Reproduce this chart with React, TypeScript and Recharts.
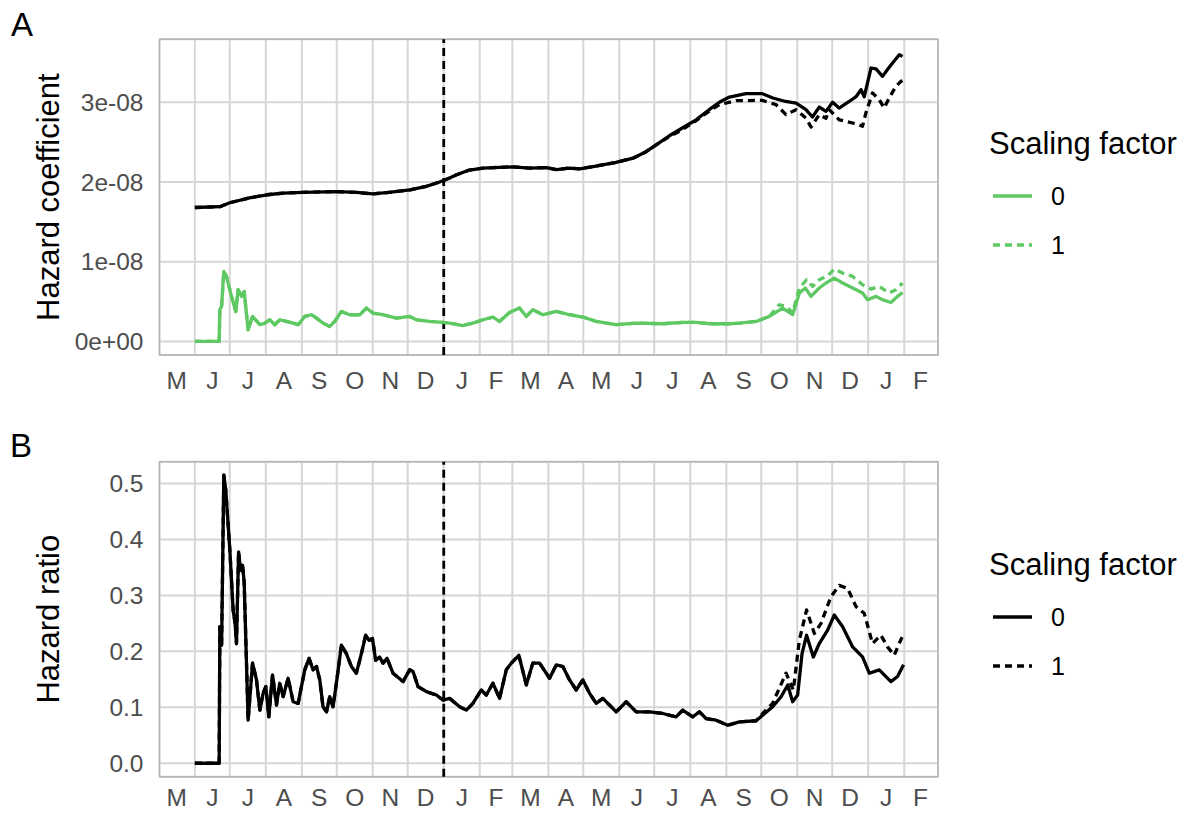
import React from 'react';
import {
  LineChart,
  Line,
  XAxis,
  YAxis,
  CartesianGrid,
  ReferenceLine,
  ReferenceArea,
} from 'recharts';

// days counted from 1 May (first year); month boundaries drive the grid, midpoints carry the letters
const monthBounds = [0, 31, 61, 92, 123, 153, 184, 214, 245, 276, 304, 335, 365, 396, 426, 457, 488, 518, 549, 579, 610, 641, 669];
const monthLetters = ['M', 'J', 'J', 'A', 'S', 'O', 'N', 'D', 'J', 'F', 'M', 'A', 'M', 'J', 'J', 'A', 'S', 'O', 'N', 'D', 'J', 'F'];
const cutoffDay = 245;
const xDomain: [number, number] = [0.6, 670];

const coefTicks = [0, 1e-8, 2e-8, 3e-8];
const ratioTicks = [0, 0.1, 0.2, 0.3, 0.4, 0.5];

type Pt = [number, number];

// panel A, black curves (identical up to spring of year two)
const coefBlackShared: Pt[] = [
  [31, 1.68e-8], [52.5, 1.69e-8], [61, 1.74e-8], [78, 1.8e-8], [93, 1.84e-8], [107, 1.86e-8],
  [124, 1.87e-8], [153, 1.88e-8], [170, 1.87e-8], [184, 1.85e-8], [198, 1.87e-8], [216, 1.9e-8],
  [230, 1.945e-8], [241.5, 2.0e-8], [250, 2.05e-8], [256, 2.09e-8], [267, 2.15e-8], [279, 2.175e-8],
  [304, 2.19e-8], [319, 2.175e-8], [333, 2.18e-8], [342, 2.155e-8], [353, 2.175e-8], [362, 2.165e-8],
  [376, 2.2e-8], [393, 2.245e-8], [408, 2.3e-8], [419, 2.38e-8], [428, 2.47e-8],
];
const coefBlackTail0: Pt[] = [
  [439, 2.58e-8], [450.5, 2.68e-8], [462, 2.78e-8], [473.5, 2.91e-8], [482, 3.0e-8], [490.6, 3.066e-8],
  [505, 3.108e-8], [519, 3.108e-8], [528, 3.054e-8], [539, 3.01e-8], [548, 2.99e-8], [556.5, 2.907e-8],
  [562, 2.815e-8], [568, 2.94e-8], [573.7, 2.886e-8], [579.4, 3.0e-8], [585, 2.928e-8], [593.7, 3.01e-8],
  [599.5, 3.07e-8], [603.8, 3.158e-8], [606.6, 3.07e-8], [612.4, 3.43e-8], [616.7, 3.418e-8],
  [622.3, 3.325e-8], [626.6, 3.41e-8], [630.9, 3.493e-8], [636.7, 3.597e-8], [639.5, 3.576e-8],
];
const coefBlackTail1: Pt[] = [
  [439, 2.57e-8], [450.5, 2.66e-8], [462, 2.77e-8], [473.5, 2.89e-8], [482, 2.97e-8], [496.4, 3.02e-8],
  [519, 3.024e-8], [530.7, 2.97e-8], [539.3, 2.845e-8], [547.9, 2.907e-8], [556.5, 2.8e-8], [560.8, 2.69e-8],
  [567.9, 2.845e-8], [573.7, 2.8e-8], [576.5, 2.907e-8], [585.1, 2.78e-8], [596.6, 2.74e-8], [605.1, 2.7e-8],
  [608, 2.866e-8], [613.7, 3.117e-8], [619.5, 3.033e-8], [623.7, 2.928e-8], [628, 3.054e-8],
  [633.8, 3.2e-8], [638.1, 3.262e-8], [639.5, 3.27e-8],
];

// panel A, green curves (scaling factor 0 and 1)
const coefGreenShared: Pt[] = [
  [31, 0], [51.9, 0], [52.5, 0.4e-8], [54, 0.44e-8], [55.9, 0.878e-8], [58.2, 0.816e-8], [62.5, 0.565e-8],
  [66.2, 0.376e-8], [68.2, 0.649e-8], [71.1, 0.565e-8], [73.4, 0.627e-8], [76.8, 0.147e-8], [80.6, 0.314e-8],
  [86.9, 0.21e-8], [91.2, 0.23e-8], [95.4, 0.272e-8], [99.7, 0.21e-8], [104, 0.272e-8], [109.8, 0.251e-8],
  [115.5, 0.23e-8], [119.8, 0.21e-8], [125.5, 0.314e-8], [131.3, 0.335e-8], [135.6, 0.293e-8],
  [141.2, 0.23e-8], [147, 0.188e-8], [151.3, 0.251e-8], [157, 0.376e-8], [164.2, 0.335e-8],
  [172.8, 0.335e-8], [178.5, 0.419e-8], [184.2, 0.356e-8], [192.8, 0.335e-8], [204.3, 0.293e-8],
  [215.7, 0.314e-8], [221.5, 0.272e-8], [232.9, 0.251e-8], [244.3, 0.238e-8], [250.1, 0.23e-8],
  [261.5, 0.2e-8], [270.1, 0.23e-8], [278.7, 0.272e-8], [287.3, 0.306e-8], [293, 0.251e-8],
  [301.6, 0.364e-8], [310.2, 0.419e-8], [316, 0.314e-8], [321.6, 0.398e-8], [330.2, 0.335e-8],
  [341.8, 0.376e-8], [353.2, 0.335e-8], [364.6, 0.306e-8], [376.1, 0.251e-8], [393.3, 0.21e-8],
  [410.5, 0.23e-8], [433.3, 0.222e-8], [450.5, 0.238e-8], [462, 0.238e-8], [473.5, 0.222e-8],
  [490.6, 0.222e-8], [499.2, 0.23e-8], [513.6, 0.251e-8], [525, 0.314e-8],
];
const coefGreenTail0: Pt[] = [
  [536.4, 0.419e-8], [545, 0.335e-8], [550.8, 0.607e-8], [555.9, 0.67e-8], [560.8, 0.565e-8],
  [567.9, 0.67e-8], [573.7, 0.733e-8], [580.8, 0.795e-8], [588, 0.733e-8], [596.6, 0.67e-8],
  [605.1, 0.607e-8], [609.4, 0.523e-8], [616.7, 0.565e-8], [622.3, 0.523e-8], [629.5, 0.489e-8],
  [635.2, 0.565e-8], [639.5, 0.615e-8],
];
const coefGreenTail1: Pt[] = [
  [533.5, 0.46e-8], [539.3, 0.44e-8], [545, 0.36e-8], [550.8, 0.67e-8], [557, 0.774e-8], [562.2, 0.69e-8],
  [567.9, 0.774e-8], [575.1, 0.824e-8], [580.8, 0.908e-8], [588, 0.858e-8], [596.6, 0.816e-8],
  [605.1, 0.711e-8], [612.4, 0.657e-8], [619.5, 0.69e-8], [628, 0.607e-8], [633.8, 0.649e-8],
  [639.5, 0.733e-8],
];

// panel B, hazard ratio
const ratioShared: Pt[] = [
  [31, 0], [51.9, 0], [52.5, 0.244], [54, 0.211], [55.9, 0.515], [57.6, 0.488], [61.1, 0.381], [63.9, 0.274],
  [65.6, 0.25], [66.8, 0.214], [68.6, 0.378], [70.3, 0.345], [72, 0.354], [73.4, 0.324], [76.8, 0.077],
  [80.6, 0.179], [84, 0.149], [86.9, 0.095], [89.7, 0.125], [92, 0.137], [94.6, 0.083], [97.8, 0.158],
  [101.2, 0.104], [104, 0.143], [106.9, 0.119], [111.2, 0.152], [115.5, 0.11], [119.8, 0.107], [125.5, 0.167],
  [129.2, 0.1875], [132.6, 0.167], [135.6, 0.173], [138.4, 0.149], [141.2, 0.101], [144.2, 0.092],
  [147, 0.119], [149.8, 0.101], [152.7, 0.143], [157, 0.211], [161.3, 0.196], [165.6, 0.173], [169.9, 0.161],
  [174.2, 0.196], [177.9, 0.229], [180.8, 0.22], [183.7, 0.223], [186.5, 0.184], [189.9, 0.19],
  [192.8, 0.179], [196.2, 0.1875], [201.4, 0.161], [210, 0.146], [215.7, 0.167], [218.6, 0.164],
  [222.9, 0.137], [230.1, 0.128], [238.7, 0.122], [244.3, 0.113], [250.1, 0.116], [258.7, 0.101],
  [264.4, 0.095], [270.1, 0.107], [277.3, 0.131], [281.6, 0.122], [287.3, 0.143], [293, 0.116],
  [298.8, 0.167], [303.1, 0.179], [309.6, 0.193], [316, 0.14], [321.6, 0.179], [327.4, 0.179], [336, 0.152],
  [341.8, 0.176], [347.4, 0.173], [353.2, 0.149], [358.9, 0.131], [364.6, 0.149], [370.4, 0.125],
  [376.1, 0.107], [381.8, 0.116], [393.3, 0.092], [401.9, 0.11], [410.5, 0.092], [421.9, 0.092],
  [433.3, 0.089], [444.8, 0.083], [450.5, 0.095], [459.1, 0.083], [464.9, 0.092], [470.6, 0.08],
  [479.2, 0.077], [489.2, 0.068], [499.2, 0.074], [513.6, 0.076],
];
const ratioTail0: Pt[] = [
  [519.2, 0.086], [527.8, 0.101], [535.1, 0.119], [540.8, 0.14], [545, 0.11], [549.3, 0.122], [553.1, 0.196],
  [557, 0.229], [562.8, 0.19], [567.9, 0.214], [575.1, 0.238], [580.8, 0.265], [588, 0.244], [596.6, 0.208],
  [605.1, 0.19], [610.9, 0.161], [619.5, 0.167], [629.5, 0.146], [635.2, 0.155], [640.4, 0.176],
];
const ratioTail1: Pt[] = [
  [519.2, 0.089], [527.8, 0.107], [539.3, 0.161], [545.6, 0.131], [550.8, 0.22], [557, 0.274], [563.7, 0.232],
  [569.4, 0.25], [578, 0.298], [585.1, 0.318], [592.3, 0.3125], [599.5, 0.28], [606.6, 0.268], [613.7, 0.214],
  [620.9, 0.229], [626.6, 0.208], [632.3, 0.193], [640.4, 0.232],
];

const FONT = '"Liberation Sans", Arial, Helvetica, sans-serif';
const GREEN = '#5ec962';
const GRID = '#d6d6d6';
const BORDER = '#b3b3b3';
const AXIS_TEXT = '#4d4d4d';
const DASH = '7 5';

const gridDays = monthBounds.slice(1, -1);
const labelDays = monthLetters.map((_, i) => (monthBounds[i] + monthBounds[i + 1]) / 2);
const monthLabel = (d: number) => monthLetters[labelDays.indexOf(d)] ?? '';
const coefLabel = (v: number) => (v === 0 ? '0e+00' : `${Math.round(v * 1e8)}e-08`);
const ratioLabel = (v: number) => v.toFixed(1);

const rows = (pts: Pt[]) => pts.map(([d, v]) => ({ d, v }));

type Series = { name: string; pts: Pt[]; color: string; dashed: boolean };

const yTitle = (text: string) => (props: any) => {
  const vb = props.viewBox || { x: 0, y: 0, height: 0 };
  const cx = vb.x + 59;
  const cy = vb.y + vb.height / 2;
  return (
    <text x={cx} y={cy} transform={`rotate(-90 ${cx} ${cy})`} textAnchor="middle" fontSize={31} fontFamily={FONT} fill="#000">
      {text}
    </text>
  );
};

function Panel(props: {
  top: number;
  height: number;
  marginTop: number;
  xAxisHeight: number;
  xLabelGap: number;
  yDomain: [number, number];
  yTicks: number[];
  yFormat: (v: number) => string;
  title: string;
  series: Series[];
}) {
  const { top, height, marginTop, xAxisHeight, xLabelGap, yDomain, yTicks, yFormat, title, series } = props;
  const tickStyle = { fontSize: 24.5, fill: AXIS_TEXT, fontFamily: FONT };
  return (
    <div style={{ position: 'absolute', left: 0, top }}>
      <LineChart width={1189} height={height} margin={{ top: marginTop, right: 251, bottom: 0, left: 0 }}>
        <CartesianGrid xAxisId="grid" stroke={GRID} strokeWidth={2} />
        <XAxis
          xAxisId="grid"
          type="number"
          dataKey="d"
          domain={xDomain}
          ticks={gridDays}
          interval={0}
          orientation="top"
          height={0}
          tick={{ fontSize: 0 }}
          tickFormatter={() => ''}
          tickLine={false}
          axisLine={false}
          allowDataOverflow
        />
        <XAxis
          type="number"
          dataKey="d"
          domain={xDomain}
          ticks={labelDays}
          interval={0}
          tickFormatter={monthLabel}
          height={xAxisHeight}
          tickSize={0}
          tickMargin={xLabelGap}
          axisLine={false}
          tickLine={false}
          tick={tickStyle}
          allowDataOverflow
        />
        <YAxis
          type="number"
          domain={yDomain}
          ticks={yTicks}
          interval={0}
          tickFormatter={yFormat}
          width={159.5}
          tickSize={0}
          tickMargin={16}
          axisLine={false}
          tickLine={false}
          tick={tickStyle}
          allowDataOverflow
          label={{ content: yTitle(title) }}
        />
        <ReferenceArea
          x1={xDomain[0]}
          x2={xDomain[1]}
          y1={yDomain[0]}
          y2={yDomain[1]}
          fill="none"
          stroke={BORDER}
          strokeWidth={1.4}
          ifOverflow="visible"
        />
        <ReferenceLine x={cutoffDay} stroke="#000" strokeWidth={2.8} strokeDasharray="8 5" />
        {series.map((s) => (
          <Line
            key={s.name}
            data={rows(s.pts)}
            dataKey="v"
            type="linear"
            dot={false}
            activeDot={false}
            stroke={s.color}
            strokeWidth={3.3}
            strokeLinejoin="round"
            strokeDasharray={s.dashed ? DASH : undefined}
            isAnimationActive={false}
          />
        ))}
      </LineChart>
    </div>
  );
}

function LegendBlock({ y, color }: { y: number; color: string }) {
  return (
    <g fontFamily={FONT}>
      <text x={989} y={y - 42} fontSize={31} fill="#000">Scaling factor</text>
      <line x1={993} x2={1032} y1={y} y2={y} stroke={color} strokeWidth={3.3} />
      <text x={1051} y={y + 9} fontSize={25} fill="#000">0</text>
      <line x1={993} x2={1032} y1={y + 49} y2={y + 49} stroke={color} strokeWidth={3.3} strokeDasharray={DASH} />
      <text x={1051} y={y + 58} fontSize={25} fill="#000">1</text>
    </g>
  );
}

export default function App() {
  const panelA: Series[] = [
    { name: 'black0', pts: [...coefBlackShared, ...coefBlackTail0], color: '#000', dashed: false },
    { name: 'black1', pts: [...coefBlackShared, ...coefBlackTail1], color: '#000', dashed: true },
    { name: 'green1', pts: [...coefGreenShared, ...coefGreenTail1], color: GREEN, dashed: true },
    { name: 'green0', pts: [...coefGreenShared, ...coefGreenTail0], color: GREEN, dashed: false },
  ];
  const panelB: Series[] = [
    { name: 'ratio1', pts: [...ratioShared, ...ratioTail1], color: '#000', dashed: true },
    { name: 'ratio0', pts: [...ratioShared, ...ratioTail0], color: '#000', dashed: false },
  ];
  return (
    <div style={{ position: 'absolute', left: 0, top: 0, width: 1189, height: 814, overflow: 'hidden', background: '#fff', fontFamily: FONT }}>
      <Panel
        top={0}
        height={400}
        marginTop={39.3}
        xAxisHeight={45}
        xLabelGap={17}
        yDomain={[-0.17e-8, 3.79e-8]}
        yTicks={coefTicks}
        yFormat={coefLabel}
        title="Hazard coefficient"
        series={panelA}
      />
      <Panel
        top={420}
        height={394}
        marginTop={41.7}
        xAxisHeight={37.3}
        xLabelGap={12}
        yDomain={[-0.024, 0.539]}
        yTicks={ratioTicks}
        yFormat={ratioLabel}
        title="Hazard ratio"
        series={panelB}
      />
      <svg width={1189} height={814} style={{ position: 'absolute', left: 0, top: 0, pointerEvents: 'none' }}>
        <text x={11} y={36} fontSize={33} fontFamily={FONT} fill="#000">A</text>
        <text x={10} y={457} fontSize={33} fontFamily={FONT} fill="#000">B</text>
        <LegendBlock y={196} color={GREEN} />
        <LegendBlock y={617} color="#000" />
      </svg>
    </div>
  );
}
